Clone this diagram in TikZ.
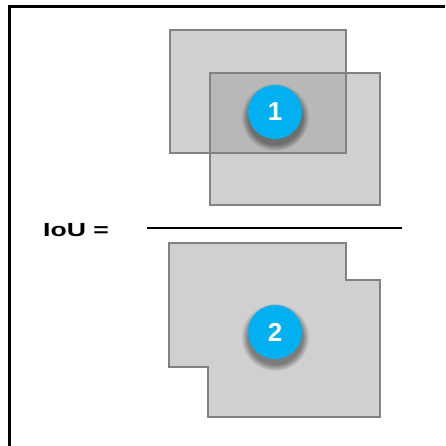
\documentclass[tikz,border=0pt]{standalone}
\usepackage{fontspec}
\setmainfont{Liberation Sans}
\usepackage{xcolor}
\usetikzlibrary{positioning,fadings}
\definecolor{grisclaro}{RGB}{208,208,208}
\definecolor{griscruce}{RGB}{184,184,184}
\definecolor{grisborde}{RGB}{130,130,130}
\definecolor{celeste}{RGB}{0,176,240}
\tikzset{
  caja/.style={draw=grisborde,line width=1.3pt},
  relleno/.style={fill=grisclaro},
  numero/.style={circle,fill=celeste,text=white,minimum size=54pt,inner sep=0pt,
    font=\fontsize{26}{26}\selectfont\bfseries},
  sombra/.style={fill=black,fill opacity=0.4,path fading=circle with fuzzy edge 20 percent},
  marco/.style={line width=3pt,draw=black},
  raya/.style={line width=2.4pt,draw=black}
}

\begin{document}
\begin{tikzpicture}[x=1pt,y=-1pt]
\useasboundingbox (0,0) rectangle (445,446);

% marco
\draw[marco] (9.3,446) -- (9.3,6.7) -- (445,6.7);

% 1. Interseccion: dos cajas superpuestas
\fill[relleno] (170,30) rectangle (346,153);
\fill[relleno] (210,73) rectangle (380,205);
\fill[griscruce] (210,73) rectangle (346,153);
\draw[caja] (170,30) rectangle (346,153);
\draw[caja] (210,73) rectangle (380,205);

\fill[sombra] (275,117) circle (34);
\node[numero] (uno) at (275,112) {1};

% raya de la fraccion
\node[font=\fontsize{19}{19}\selectfont\bfseries,anchor=west,inner sep=0pt] (iou) at (43,230)
  {\scalebox{1.4}[1]{IoU =}};
\coordinate (rayaizq) at (147,228);
\coordinate (rayader) at (402,228);
\draw[raya] (rayaizq) -- (rayader);

% 2. Union
\draw[caja,relleno] (169,243) -- (346,243) -- (346,280) -- (380,280) -- (380,417)
  -- (208,417) -- (208,367) -- (169,367) -- cycle;

\fill[sombra] (275,337) circle (34);
\node[numero] (dos) at (275,332) {2};

\end{tikzpicture}
\end{document}
